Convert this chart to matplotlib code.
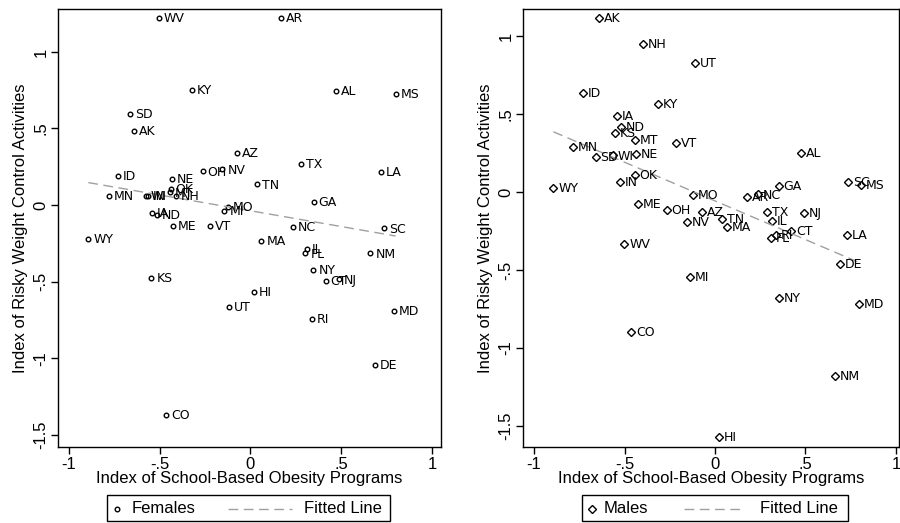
import numpy as np
import matplotlib
matplotlib.use('Agg')
import matplotlib.pyplot as plt
from matplotlib.lines import Line2D
from matplotlib.patches import Rectangle

# females: state, obesity-program index, risky weight control index
fem_states = ['WV', 'AR', 'KY', 'AL', 'MS', 'SD', 'AK', 'AZ', 'TX', 'LA',
              'ID', 'OH', 'NV', 'NE', 'TN', 'OK', 'MT', 'WI', 'IN', 'NH',
              'MN', 'GA', 'MO', 'MI', 'IA', 'ND', 'ME', 'VT', 'NC', 'SC',
              'WY', 'MA', 'IL', 'FL', 'NM', 'NY', 'CT', 'NJ', 'KS', 'HI',
              'UT', 'MD', 'RI', 'DE', 'CO']
fem_x = [-0.503, 0.169, -0.320, 0.470, 0.800, -0.663, -0.641, -0.073, 0.279, 0.720,
         -0.729, -0.263, -0.154, -0.433, 0.037, -0.440, -0.445, -0.575, -0.565, -0.408,
         -0.777, 0.349, -0.123, -0.143, -0.540, -0.514, -0.428, -0.220, 0.233, 0.735,
         -0.893, 0.061, 0.310, 0.303, 0.661, 0.347, 0.415, 0.489, -0.545, 0.018,
         -0.116, 0.790, 0.338, 0.685, -0.465]
fem_y = [1.220, 1.220, 0.750, 0.747, 0.725, 0.595, 0.486, 0.338, 0.268, 0.216,
         0.190, 0.220, 0.233, 0.170, 0.135, 0.105, 0.083, 0.061, 0.058, 0.059,
         0.059, 0.022, -0.011, -0.039, -0.050, -0.065, -0.135, -0.135, -0.142, -0.153,
         -0.220, -0.233, -0.285, -0.316, -0.316, -0.425, -0.495, -0.486, -0.477, -0.569,
         -0.667, -0.693, -0.743, -1.044, -1.373]

# males
male_states = ['AK', 'NH', 'UT', 'ID', 'KY', 'IA', 'ND', 'KS', 'MT', 'VT',
               'MN', 'SD', 'WI', 'NE', 'AL', 'OK', 'IN', 'WY', 'SC', 'MS',
               'GA', 'MO', 'AR', 'NC', 'ME', 'OH', 'AZ', 'TX', 'NJ', 'NV',
               'TN', 'IL', 'MA', 'CT', 'RI', 'FL', 'LA', 'WV', 'DE', 'MI',
               'NY', 'MD', 'CO', 'NM', 'HI']
male_x = [-0.643, -0.400, -0.112, -0.728, -0.315, -0.543, -0.519, -0.551, -0.440, -0.217,
          -0.783, -0.659, -0.565, -0.435, 0.477, -0.444, -0.525, -0.893, 0.735, 0.805,
          0.352, -0.120, 0.175, 0.236, -0.425, -0.267, -0.070, 0.286, 0.493, -0.156,
          0.039, 0.317, 0.064, 0.422, 0.339, 0.308, 0.728, -0.501, 0.690, -0.138,
          0.354, 0.794, -0.464, 0.665, 0.020]
male_y = [1.115, 0.949, 0.829, 0.633, 0.564, 0.487, 0.415, 0.380, 0.333, 0.316,
          0.290, 0.226, 0.235, 0.244, 0.252, 0.107, 0.066, 0.028, 0.064, 0.045,
          0.038, -0.019, -0.030, -0.015, -0.077, -0.115, -0.126, -0.126, -0.133, -0.190,
          -0.175, -0.184, -0.222, -0.248, -0.276, -0.293, -0.276, -0.333, -0.462, -0.545,
          -0.679, -0.718, -0.897, -1.179, -1.572]

xticks = [-1, -0.5, 0, 0.5, 1]
xticklabels = ['-1', '-.5', '0', '.5', '1']
yticks = [-1.5, -1, -0.5, 0, 0.5, 1]
yticklabels = ['-1.5', '-1', '-.5', '0', '.5', '1']

axis_font = ['Liberation Sans Narrow', 'Liberation Sans', 'DejaVu Sans']
label_font = ['DejaVu Sans']
FIT_COLOR = '#a0a0a0'

W, H = 900, 523
fig = plt.figure(figsize=(9, 5.23), dpi=100)
fig.patch.set_facecolor('white')


def fx(px):
    return px / W


def fy(py):
    return 1 - py / H


def legend_box(x0, x1, marker, ms, name, name_x, dash_x0, dash_x1, fit_x):
    # boxed key under each panel: marker, name, dashed sample, "Fitted Line"
    top, bot, mid = 495, 521, 508.5
    fig.patches.append(Rectangle((fx(x0), fy(bot)), fx(x1 - x0), (bot - top) / H,
                                 transform=fig.transFigure, fill=False,
                                 edgecolor='black', lw=1.0))
    fig.lines.append(Line2D([fx(x0 + 10)], [fy(mid)], transform=fig.transFigure,
                            linestyle='none', marker=marker, ms=ms, mfc='none',
                            mec='black', mew=1.0))
    fig.lines.append(Line2D([fx(dash_x0), fx(dash_x1)], [fy(mid), fy(mid)],
                            transform=fig.transFigure, color=FIT_COLOR, lw=1.0,
                            dashes=(7, 4)))
    fig.text(fx(name_x), fy(mid), name, va='center', ha='left',
             family=axis_font, fontsize=12)
    fig.text(fx(fit_x), fy(mid), 'Fitted Line', va='center', ha='left',
             family=axis_font, fontsize=12)


def panel(rect, states, xs, ys, marker, ms, xlim, ylim):
    ax = fig.add_axes(rect)
    xs = np.array(xs)
    ys = np.array(ys)
    ax.plot(xs, ys, linestyle='none', marker=marker, ms=ms, mfc='none',
            mec='black', mew=1.0)
    for s, x, y in zip(states, xs, ys):
        ax.annotate(s, (x, y), xytext=(3.5, -0.5), textcoords='offset points',
                    va='center', ha='left', fontsize=9, family=label_font)
    slope, icpt = np.polyfit(xs, ys, 1)
    lx = np.array([xs.min(), xs.max()])
    ax.plot(lx, icpt + slope * lx, color=FIT_COLOR, lw=1.0, dashes=(7, 4))
    ax.set_xlim(xlim)
    ax.set_ylim(ylim)
    ax.set_xticks(xticks)
    ax.set_xticklabels(xticklabels, family=axis_font, fontsize=12)
    ax.set_yticks(yticks)
    ax.set_yticklabels(yticklabels, family=axis_font, fontsize=12,
                       rotation=90, va='center')
    ax.tick_params(direction='out', length=5, width=1, pad=2)
    for sp in ax.spines.values():
        sp.set_linewidth(1.0)
    ax.set_xlabel('Index of School-Based Obesity Programs', family=axis_font,
                  fontsize=12)
    ax.xaxis.set_label_coords(0.5, -0.055)
    ax.set_ylabel('Index of Risky Weight Control Activities', family=axis_font,
                  fontsize=12, labelpad=4)
    return ax


panel([fx(58), fy(447), fx(383), 438 / H], fem_states, fem_x, fem_y,
      'o', 3.3, (-1.06, 1.05), (-1.58, 1.28))
panel([fx(523), fy(447), fx(376), 438 / H], male_states, male_x, male_y,
      'D', 3.6, (-1.061, 1.017), (-1.635, 1.173))

legend_box(107, 390, 'o', 3.3, 'Females', 132, 228, 292, 304)
legend_box(582, 848, 'D', 3.6, 'Males', 604, 684, 743, 760)

fig.savefig('out.png', dpi=100, facecolor='white')
